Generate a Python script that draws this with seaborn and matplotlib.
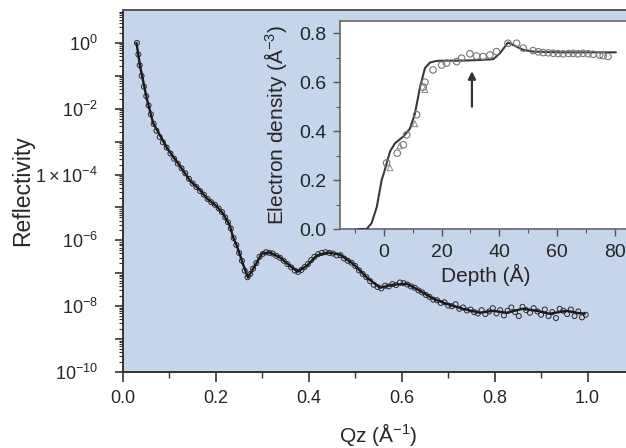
import numpy as np
import pandas as pd
import matplotlib
matplotlib.use("Agg")
import matplotlib.pyplot as plt
import matplotlib.ticker as mticker
import seaborn as sns

# reflectivity fit (Qz in 1/A, log10 R)
fit_q = [0.029, 0.037, 0.052, 0.065, 0.095, 0.129, 0.144, 0.166, 0.181, 0.202,
         0.215, 0.230, 0.237, 0.245, 0.258, 0.269, 0.284, 0.299, 0.316, 0.338,
         0.359, 0.376, 0.396, 0.417, 0.441, 0.467, 0.495, 0.525, 0.553, 0.581,
         0.611, 0.639, 0.667, 0.697, 0.731, 0.768, 0.796, 0.826, 0.860, 0.890,
         0.918, 0.955, 0.976, 0.994]
fit_logR = [0.00, -0.73, -1.74, -2.44, -3.20, -3.87, -4.18, -4.48, -4.73, -4.97,
            -5.18, -5.55, -5.91, -6.16, -6.71, -7.13, -6.77, -6.40, -6.37, -6.52,
            -6.77, -6.95, -6.77, -6.46, -6.37, -6.43, -6.71, -7.13, -7.44, -7.35,
            -7.32, -7.53, -7.77, -7.93, -8.08, -8.20, -8.14, -8.20, -8.08, -8.14,
            -8.23, -8.14, -8.20, -8.23]

# measured reflectivity points
data_q = [0.030, 0.033, 0.036, 0.040, 0.045, 0.050, 0.055, 0.060, 0.066, 0.072,
          0.079, 0.086, 0.094, 0.102, 0.110, 0.118, 0.126, 0.134, 0.142, 0.150,
          0.158, 0.166, 0.174, 0.182, 0.190, 0.198, 0.206, 0.213, 0.220, 0.226,
          0.232, 0.238, 0.244, 0.250, 0.256, 0.262, 0.268, 0.274, 0.280, 0.287,
          0.294, 0.301, 0.308, 0.315, 0.322, 0.330, 0.338, 0.346, 0.354, 0.362,
          0.370, 0.377, 0.384, 0.391, 0.398, 0.405, 0.412, 0.420, 0.428, 0.436,
          0.444, 0.452, 0.460, 0.468, 0.476, 0.484, 0.492, 0.500, 0.508, 0.516,
          0.524, 0.532, 0.540, 0.548, 0.556, 0.564, 0.572, 0.580, 0.588, 0.596,
          0.604, 0.612, 0.620, 0.628, 0.636, 0.644, 0.652, 0.660, 0.668, 0.676,
          0.684, 0.692, 0.700, 0.708, 0.716, 0.724, 0.732, 0.740, 0.748, 0.756,
          0.764, 0.772, 0.780, 0.788, 0.796, 0.804, 0.812, 0.820, 0.828, 0.836,
          0.844, 0.852, 0.860, 0.868, 0.876, 0.884, 0.892, 0.900, 0.908, 0.916,
          0.924, 0.932, 0.940, 0.948, 0.956, 0.964, 0.972, 0.980, 0.988, 0.996]
data_logR = [0.00, -0.35, -0.68, -1.00, -1.33, -1.62, -1.90, -2.17, -2.46, -2.67,
             -2.86, -3.02, -3.18, -3.36, -3.52, -3.67, -3.81, -3.96, -4.13, -4.27,
             -4.38, -4.50, -4.61, -4.74, -4.84, -4.92, -5.03, -5.14, -5.30, -5.45,
             -5.64, -5.93, -6.14, -6.38, -6.62, -6.92, -7.12, -7.02, -6.86, -6.69,
             -6.50, -6.41, -6.36, -6.38, -6.40, -6.47, -6.53, -6.62, -6.72, -6.82,
             -6.92, -6.96, -6.90, -6.81, -6.72, -6.60, -6.50, -6.42, -6.38, -6.36,
             -6.38, -6.40, -6.46, -6.45, -6.55, -6.62, -6.68, -6.78, -6.91, -7.02,
             -7.12, -7.24, -7.35, -7.42, -7.46, -7.38, -7.40, -7.33, -7.36, -7.28,
             -7.30, -7.34, -7.40, -7.44, -7.52, -7.58, -7.66, -7.72, -7.80, -7.82,
             -7.90, -7.88, -7.98, -8.00, -7.94, -8.08, -8.04, -8.13, -8.10, -8.18,
             -8.22, -8.12, -8.24, -8.16, -8.06, -8.22, -8.12, -8.28, -8.14, -8.04,
             -8.18, -8.30, -8.02, -8.12, -8.20, -8.06, -8.16, -8.26, -8.10, -8.30,
             -8.18, -8.36, -8.08, -8.14, -8.24, -8.10, -8.30, -8.16, -8.34, -8.26]

# electron density profile (inset)
prof_depth = [-9, -6, -4.3, -2.5, -0.8, 0.0, 2.1, 3.8, 6.7, 9.0, 10.7, 12.5, 14.2,
              15.9, 18.2, 21.7, 26.3, 32.0, 37.9, 40.2, 43.0, 44.8, 48.3, 51.7,
              61.0, 72.5, 80.4]
prof_dens = [0.0, 0.0, 0.024, 0.09, 0.20, 0.23, 0.317, 0.35, 0.378, 0.41, 0.47,
             0.58, 0.657, 0.68, 0.687, 0.688, 0.688, 0.69, 0.694, 0.718, 0.762,
             0.752, 0.732, 0.725, 0.722, 0.722, 0.722]

circ_depth = [0.9, 4.6, 6.7, 7.9, 11.3, 13.6, 14.2, 17.0, 20.0, 21.7, 25.2, 26.9,
              29.8, 32.1, 34.4, 36.7, 39.0, 43.0, 46.0, 48.3, 51.7, 53.5, 55.2,
              57.0, 58.7, 60.4, 62.1, 64.0, 65.6, 67.3, 69.0, 70.8, 72.5, 74.8,
              76.0, 77.7]
circ_dens = [0.27, 0.31, 0.344, 0.385, 0.467, 0.58, 0.60, 0.65, 0.67, 0.678, 0.684,
             0.698, 0.716, 0.707, 0.705, 0.711, 0.725, 0.759, 0.759, 0.739, 0.729,
             0.724, 0.721, 0.72, 0.718, 0.717, 0.716, 0.717, 0.718, 0.716, 0.718,
             0.716, 0.714, 0.711, 0.708, 0.705]
tri_depth = [2.1, 5.5, 10.7, 14.2]
tri_dens = [0.25, 0.34, 0.43, 0.57]

fit = pd.DataFrame({"q": fit_q, "R": 10 ** np.array(fit_logR)})
meas = pd.DataFrame({"q": data_q, "R": 10 ** np.array(data_logR)})
prof = pd.DataFrame({"depth": prof_depth, "dens": prof_dens})
circ = pd.DataFrame({"depth": circ_depth, "dens": circ_dens})
tri = pd.DataFrame({"depth": tri_depth, "dens": tri_dens})

sns.set_theme(style="ticks")
plt.rcParams["font.family"] = ["Liberation Sans", "DejaVu Sans"]
plt.rcParams["mathtext.fontset"] = "custom"
plt.rcParams["mathtext.rm"] = "Liberation Sans"
plt.rcParams["mathtext.it"] = "Liberation Sans:italic"
plt.rcParams["mathtext.default"] = "regular"

fig = plt.figure(figsize=(6.26, 4.48), dpi=100)
fig.patch.set_facecolor("white")

# main reflectivity panel
ax = fig.add_axes([123 / 626, 76 / 448, 511 / 626, 362 / 448])
ax.set_facecolor("#c5d5ea")
sns.scatterplot(data=meas, x="q", y="R", ax=ax, marker="o", s=13,
                facecolors="none", edgecolor="#2a2a2a", linewidth=0.7, zorder=3)
sns.lineplot(data=fit, x="q", y="R", ax=ax, color="#1a1a1a", lw=1.7, zorder=4)
ax.set_yscale("log")
ax.set_xlim(0, 1.1)
ax.set_ylim(1e-10, 10)

decades = [10.0 ** k for k in range(-10, 1)]
dec_labels = []
for k in range(-10, 1):
    if k == -4:
        dec_labels.append(r"$1\times10^{-4}$")
    elif k % 2 == 0:
        dec_labels.append(r"$10^{%d}$" % k)
    else:
        dec_labels.append("")
ax.yaxis.set_major_locator(mticker.FixedLocator(decades))
ax.set_yticklabels(dec_labels)
ax.yaxis.set_minor_locator(mticker.LogLocator(base=10, subs=np.arange(2, 10), numticks=30))
ax.yaxis.set_minor_formatter(mticker.NullFormatter())
ax.set_xticks([0.0, 0.2, 0.4, 0.6, 0.8, 1.0])
ax.set_xticklabels(["0.0", "0.2", "0.4", "0.6", "0.8", "1.0"])
ax.xaxis.set_minor_locator(mticker.MultipleLocator(0.1))
ax.tick_params(axis="y", which="major", length=6, width=1.2, pad=12, labelsize=13, color="#333333")
ax.tick_params(axis="y", which="minor", length=3, width=0.8, color="#333333")
ax.tick_params(axis="x", which="major", length=7, width=1.2, pad=6, labelsize=13, color="#333333")
ax.tick_params(axis="x", which="minor", length=4, width=1.0, color="#333333")
for side in ["left", "bottom"]:
    ax.spines[side].set_color("#333333")
    ax.spines[side].set_linewidth(1.4)
ax.spines["top"].set_color("#555555")
ax.spines["top"].set_linewidth(1.4)
ax.set_xlabel(r"Qz (Å$^{-1}$)", fontsize=15, labelpad=10)
ax.set_ylabel("Reflectivity", fontsize=16.5, labelpad=1)

# inset: electron density profile
ins = fig.add_axes([340 / 626, 219 / 448, 292 / 626, 208 / 448])
ins.set_facecolor("white")
sns.lineplot(data=prof, x="depth", y="dens", ax=ins, color="#3a3a3a", lw=1.5, zorder=3)
sns.scatterplot(data=circ, x="depth", y="dens", ax=ins, marker="o", s=22,
                facecolors="none", edgecolor="#777777", linewidth=0.8, zorder=4)
sns.scatterplot(data=tri, x="depth", y="dens", ax=ins, marker="^", s=18,
                facecolors="none", edgecolor="#888888", linewidth=0.7, zorder=4)
ins.annotate("", xy=(30.5, 0.645), xytext=(30.5, 0.50),
             arrowprops=dict(arrowstyle="-|>", color="#333333", lw=1.6,
                             mutation_scale=11, shrinkA=0, shrinkB=0))
ins.set_xlim(-15.25, 86)
ins.set_ylim(0, 0.85)
ins.set_xticks([0, 20, 40, 60, 80])
ins.set_yticks([0.0, 0.2, 0.4, 0.6, 0.8])
ins.set_yticklabels(["0.0", "0.2", "0.4", "0.6", "0.8"])
ins.xaxis.set_minor_locator(mticker.MultipleLocator(10))
ins.yaxis.set_minor_locator(mticker.MultipleLocator(0.1))
ins.tick_params(which="major", length=5, width=1.0, labelsize=14, color="#555555")
ins.tick_params(which="minor", length=3, width=0.8, color="#555555")
ins.tick_params(axis="x", pad=6)
ins.tick_params(axis="y", pad=5)
for s in ins.spines.values():
    s.set_color("#666666")
    s.set_linewidth(1.2)
ins.set_xlabel("Depth (Å)", fontsize=15, labelpad=2)
ins.set_ylabel(r"Electron density (Å$^{-3}$)", fontsize=15, labelpad=7)

fig.savefig("out.png", dpi=100)
